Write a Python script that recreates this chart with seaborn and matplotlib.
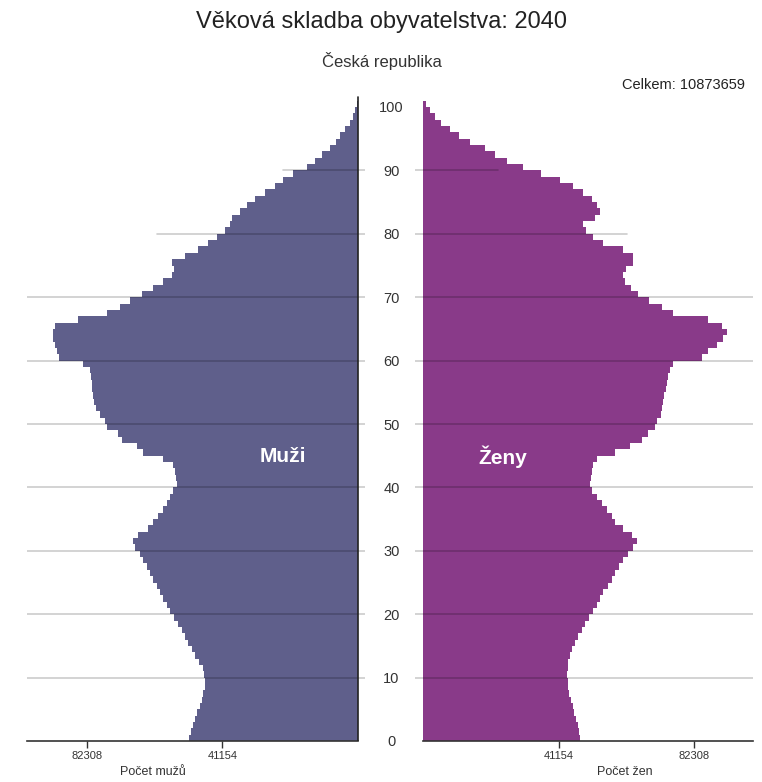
import matplotlib
matplotlib.use("Agg")
import matplotlib.pyplot as plt
import seaborn as sns
import pandas as pd

# ---- data (persons by single year of age, 0..100) ----
ages = list(range(101))

muzi = [51300, 50700, 50100, 49500, 48900, 48000, 47400, 47100, 46500, 46500,
        46800, 47100, 48300, 49500, 50400, 51600, 52500, 53500, 54700, 55900,
        57100, 58000, 59200, 60100, 61000, 62300, 63200, 64100, 65300, 66200,
        67700, 68300, 66800, 63800, 62300, 60700, 59200, 58000, 57100, 56200,
        55000, 55300, 55600, 56200, 59200, 65300, 67100, 71700, 72900, 76200,
        76800, 78400, 79600, 80200, 80500, 80800, 80800, 81100, 81400, 83500,
        90800, 91400, 92000, 92600, 92600, 92000, 85000, 76200, 72300, 69200,
        65600, 62300, 59200, 56500, 55900, 56500, 52500, 48600, 45600, 42800,
        40400, 38900, 38300, 35800, 33700, 31300, 28200, 25200, 22800, 19700,
        15500, 13100, 10900, 8500, 6700, 5500, 3900, 2400, 1500, 900, 300]

zeny = [47700, 47400, 47100, 46500, 45900, 45600, 44900, 44300, 44000, 44000,
        43700, 44000, 44000, 44600, 45300, 46200, 47100, 48300, 49200, 50400,
        51600, 52800, 53800, 54700, 56200, 57400, 58300, 59500, 60700, 62300,
        63800, 65000, 63500, 60700, 58300, 57400, 55900, 54400, 52800, 51300,
        50700, 51000, 51300, 51600, 52800, 58300, 62900, 66500, 68300, 70500,
        71100, 72300, 72600, 72900, 73200, 73800, 74100, 74400, 75000, 75900,
        84700, 86600, 89300, 91100, 92300, 90800, 86600, 75900, 72600, 68600,
        65300, 63200, 61300, 60700, 61700, 63800, 63800, 60700, 54700, 51600,
        49500, 48600, 52200, 53800, 52800, 51300, 48600, 45600, 41600, 35800,
        30400, 25500, 21900, 18800, 14300, 10900, 8200, 5500, 3600, 2100, 900]

x_ticks = [82308, 41154]
x_tick_labels = ["82308", "41154"]
y_ticks = list(range(0, 101, 10))

title = "Věková skladba obyvatelstva: 2040"
subtitle = "Česká republika"
total_text = "Celkem: 10873659"

df = pd.DataFrame({"vek": ages, "muzi": muzi, "zeny": zeny})

# ---- style ----
sns.set_theme(style="white")
plt.rcParams["font.family"] = ["Liberation Sans", "DejaVu Sans"]

c_m = "#5f5f8b"
c_z = "#893a89"
txt = "#333333"

W, H = 762, 782
fig = plt.figure(figsize=(W / 100, H / 100), dpi=100)
fig.patch.set_facecolor("white")

bottom = (H - 741) / H
height = 6.34 * 102 / H
ax_l = fig.add_axes([27 / W, bottom, (365 - 27) / W, height])
ax_r = fig.add_axes([415 / W, bottom, (753 - 415) / W, height])

sns.barplot(data=df, x="muzi", y="vek", orient="h", order=ages, color=c_m,
            saturation=1, width=1.0, linewidth=0, ax=ax_l)
sns.barplot(data=df, x="zeny", y="vek", orient="h", order=ages, color=c_z,
            saturation=1, width=1.0, linewidth=0, ax=ax_r)

px = 303.7  # persons per pixel
ax_l.set_xlim(331 * px, -7 * px)
ax_r.set_xlim(-8 * px, 330 * px)
for ax in (ax_l, ax_r):
    ax.set_ylim(-0.5, 101.5)
    ax.set_xlabel("")
    ax.set_ylabel("")
    ax.set_facecolor("none")
    for s in ("top", "left", "right"):
        ax.spines[s].set_visible(False)
    ax.spines["bottom"].set_color(txt)
    ax.spines["bottom"].set_linewidth(1.2)
    ax.set_xticks(x_ticks)
    ax.set_xticklabels(x_tick_labels)
    ax.tick_params(axis="x", bottom=True, direction="out", length=5, width=1,
                   color=txt, labelsize=8, labelcolor=txt, pad=2)
    ax.grid(False)

ax_l.spines["bottom"].set_bounds(0, 331 * px)
ax_r.spines["bottom"].set_bounds(0, 330 * px)

# gridlines (partial lengths as in the reference)
left_ext = {10: 0, 20: 0, 30: 0, 40: 0, 50: 0, 60: 0, 70: 0, 80: 0.385, 90: 0.757}
right_ext = {10: 1, 20: 1, 30: 1, 40: 1, 50: 1, 60: 1, 70: 1, 80: 0.627, 90: 0.246}
for a, x0 in left_ext.items():
    ax_l.axhline(a - 0.5, xmin=x0, xmax=1, color="black", alpha=0.2, lw=1.2, zorder=5)
for a, x1 in right_ext.items():
    ax_r.axhline(a - 0.5, xmin=0, xmax=x1, color="black", alpha=0.2, lw=1.2, zorder=5)

# dark axis line at zero for men
ax_l.axvline(0, ymin=0, ymax=101.5 / 102, color="#222222", lw=1.2, zorder=6)

# age labels between panels
ax_r.set_yticks([])
ax_l.yaxis.tick_right()
ax_l.set_yticks([a - 0.5 for a in y_ticks])
ax_l.set_yticklabels([str(a) for a in y_ticks])
ax_l.tick_params(axis="y", right=True, length=0, pad=19, labelsize=10.5, labelcolor=txt)
for lab in ax_l.get_yticklabels():
    lab.set_horizontalalignment("center")

# texts
fig.text(382 / W, 1 - 22 / H, title, ha="center", va="center", fontsize=17, color="#222222")
fig.text(382 / W, 1 - 61 / H, subtitle, ha="center", va="center", fontsize=12, color=txt)
fig.text(745 / W, 1 - 85 / H, total_text, ha="right", va="center", fontsize=10.5, color="#222222")
fig.text(283 / W, 1 - 457 / H, "Muži", ha="center", va="center", fontsize=15,
         fontweight="bold", color="white")
fig.text(503 / W, 1 - 457 / H, "Ženy", ha="center", va="center", fontsize=15,
         fontweight="bold", color="white")
fig.text(153 / W, 1 - 772 / H, "Počet mužů", ha="center", va="center", fontsize=9, color=txt)
fig.text(625 / W, 1 - 772 / H, "Počet žen", ha="center", va="center", fontsize=9, color=txt)

fig.savefig("out.png", dpi=100, facecolor="white")
